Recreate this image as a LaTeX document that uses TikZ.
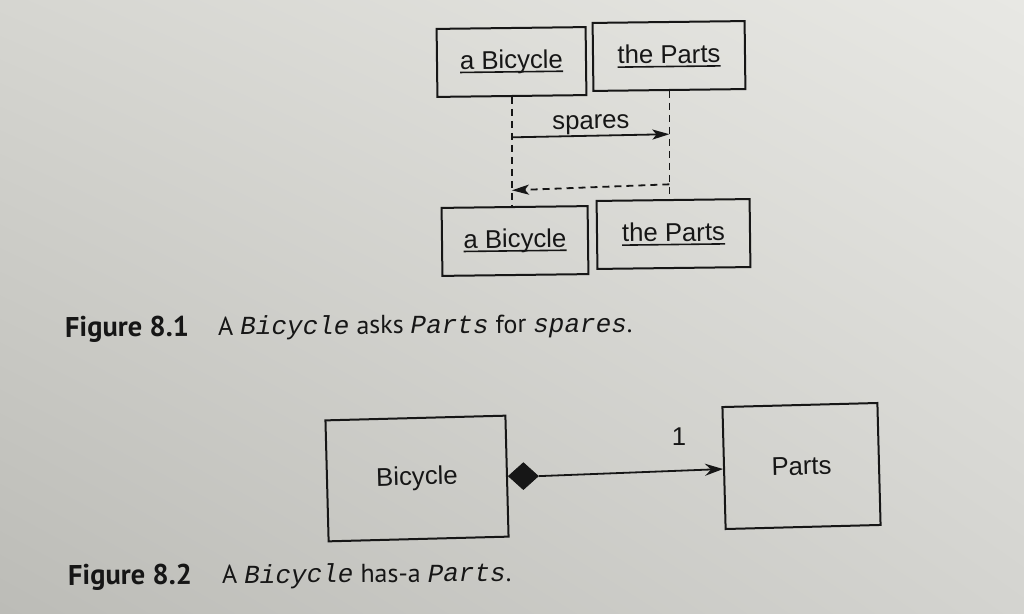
\documentclass[tikz,border=0pt]{standalone}
\usepackage{fontspec}
\setmainfont{Liberation Sans}
\newfontfamily\capfont{PT Sans}
\newfontfamily\codefont{Liberation Mono}
\usetikzlibrary{arrows.meta,shapes.geometric,calc,shadings}
\definecolor{ink}{RGB}{22,22,22}
\definecolor{pgul}{RGB}{214,214,209}
\definecolor{pgur}{RGB}{232,232,228}
\definecolor{pgll}{RGB}{188,188,183}
\definecolor{pglr}{RGB}{212,212,208}
\newcommand\myul[1]{\setbox0\hbox{#1}\rlap{\rule[-4pt]{\wd0}{1.6pt}}\box0}
\newcommand\code[1]{{\codefont\itshape #1}}
\begin{document}
\begin{tikzpicture}[x=1pt,y=-1pt,
  diafont/.style={font=\fontsize{25.7}{30}\selectfont},
  obj/.style={draw=ink, line width=2pt, text=ink, minimum height=68pt, inner sep=0pt, diafont, rotate=0.7},
  cls/.style={draw=ink, line width=2pt, text=ink, minimum height=121pt, inner sep=0pt, diafont, rotate=1.5},
  life/.style={draw=ink, line width=1.7pt, dash pattern=on 7pt off 5pt},
  msg/.style={draw=ink, line width=1.8pt, -{Stealth[length=17pt,width=10pt,inset=4pt]}},
  ret/.style={msg, dash pattern=on 7pt off 5pt},
  assoc/.style={draw=ink, line width=1.8pt, -{Stealth[length=18pt,width=12pt,inset=6pt]}},
  captext/.style={anchor=base west, text=ink, inner sep=0pt, font=\capfont\fontsize{26}{31}\selectfont, rotate=0.4},
  caplbl/.style={captext, font=\capfont\bfseries\fontsize{28.5}{33}\selectfont}]
\useasboundingbox (0,0) rectangle (1024,613);
\shade[upper left=pgul, upper right=pgur, lower left=pgll, lower right=pglr]
  (0,0) rectangle (1024,613);

% Figure 8.1
\node[obj, minimum width=149pt] (b1) at (511.5,62) {\myul{a Bicycle}};
\node[obj, minimum width=152pt] (p1) at (669,56) {\myul{the Parts}};
\node[obj, minimum width=146pt] (b2) at (515,241) {\myul{a Bicycle}};
\node[obj, minimum width=153pt] (p2) at (673.5,234) {\myul{the Parts}};

\coordinate (lb) at (b1.south |- b2.north);
\coordinate (lp) at (p1.south |- p2.north);
\draw[life] (b1.south) -- (lb);
\draw[life] (p1.south) -- (lp);

\coordinate (s1) at ($(b1.south)!0.37!(lb)$);
\coordinate (s2) at ($(p1.south)!0.40!(lp)$);
\coordinate (r1) at ($(p1.south)!0.864!(lp)$);
\coordinate (r2) at ($(b1.south)!0.856!(lb)$);
\draw[msg] (s1) -- (s2);
\node[anchor=base, text=ink, diafont, inner sep=0pt, rotate=0.7] (sp) at (591,129) {spares};
\draw[ret] (r1) -- (r2);

\node[caplbl] (c1l) at (65,337) {Figure 8.1};
\node[captext] (c1t) at (218,335) {A \code{Bicycle} asks \code{Parts} for \code{spares}.};

% Figure 8.2
\node[cls, minimum width=180pt] (bic) at (417,478.5) {Bicycle};
\node[cls, minimum width=155pt, minimum height=122pt] (parts) at (801.5,466) {Parts};
\node[diamond, fill=ink, draw=ink, line width=0.8pt, minimum width=30pt, minimum height=27pt, inner sep=0pt, anchor=west] (dia) at (bic.east) {};
\draw[assoc] (dia.east) -- (parts);
\node[text=ink, diafont, inner sep=0pt] (one) at (679,437) {1};

\node[caplbl] (c2l) at (68,585) {Figure 8.2};
\node[captext] (c2t) at (222,583.5) {A \code{Bicycle} has-a \code{Parts}.};
\end{tikzpicture}
\end{document}
